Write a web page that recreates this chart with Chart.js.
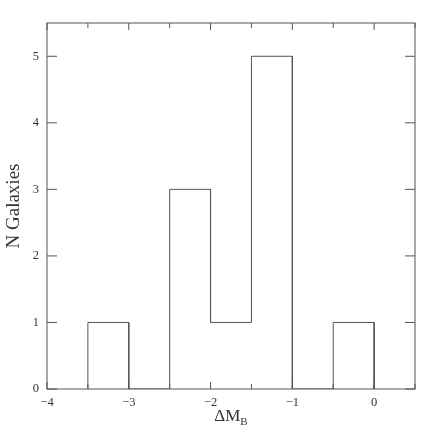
<!DOCTYPE html>
<html>
<head>
<meta charset="utf-8">
<script src="https://cdn.jsdelivr.net/npm/chart.js@4.4.1/dist/chart.umd.min.js"></script>
<style>
  html, body { margin: 0; padding: 0; background: #fff; }
  #wrap { position: relative; width: 436px; height: 436px; }
  #xTitle {
    position: absolute; top: 406px; width: 80px; text-align: center;
    font-family: 'Liberation Serif', serif; font-size: 17px; color: #333; line-height: 20px;
  }
  #xTitle sub { font-size: 11px; vertical-align: -4px; }
</style>
</head>
<body>
<div id="wrap">
  <canvas id="histChart" width="436" height="436"></canvas>
  <div id="xTitle">&Delta;M<sub>B</sub></div>
</div>
<script>
// histogram of magnitude differences
const binEdges = [-3.5, -3, -2.5, -2, -1.5, -1, -0.5, 0];
const counts = [1, 0, 3, 1, 5, 0, 1];
const xTicks = [-4, -3.5, -3, -2.5, -2, -1.5, -1, -0.5, 0, 0.5];
const yTicks = [0, 1, 2, 3, 4, 5];

const lineColor = '#555';
const textColor = '#333';

// outline of the histogram: go up/down at each edge
const outline = [{ x: binEdges[0], y: 0 }];
for (let i = 0; i < counts.length; i++) {
    outline.push({ x: binEdges[i], y: counts[i] });
    outline.push({ x: binEdges[i + 1], y: counts[i] });
}
outline.push({ x: binEdges[binEdges.length - 1], y: 0 });

function minusLabel(v) {
    if (!Number.isInteger(v)) return '';
    return v < 0 ? '\u2212' + Math.abs(v) : String(v);
}

// frame and inward tick marks on all four sides
const frameTicks = {
    id: 'frameTicks',
    afterDraw(chart) {
        const ctx = chart.ctx;
        const a = chart.chartArea;
        const xs = chart.scales.x, ys = chart.scales.y;
        ctx.save();
        ctx.strokeStyle = lineColor;
        ctx.lineWidth = 1;
        ctx.strokeRect(a.left, a.top, a.right - a.left, a.bottom - a.top);
        ctx.beginPath();
        xTicks.forEach(v => {
            const px = xs.getPixelForValue(v);
            const len = Number.isInteger(v) ? 7 : 5;
            ctx.moveTo(px, a.bottom); ctx.lineTo(px, a.bottom - len);
            ctx.moveTo(px, a.top); ctx.lineTo(px, a.top + len);
        });
        yTicks.forEach(v => {
            const py = ys.getPixelForValue(v);
            ctx.moveTo(a.left, py); ctx.lineTo(a.left + 10, py);
            ctx.moveTo(a.right, py); ctx.lineTo(a.right - 10, py);
        });
        ctx.stroke();
        ctx.restore();
    }
};

const ctx = document.getElementById('histChart').getContext('2d');
const histChart = new Chart(ctx, {
    type: 'line',
    data: {
        datasets: [{
            data: outline,
            borderColor: lineColor,
            borderWidth: 1,
            pointRadius: 0,
            fill: false,
            tension: 0
        }]
    },
    options: {
        responsive: false,
        animation: false,
        layout: { padding: { top: 23, right: 21, left: 0, bottom: 0 } },
        plugins: { legend: { display: false }, tooltip: { enabled: false } },
        scales: {
            x: {
                type: 'linear',
                min: -4,
                max: 0.5,
                afterBuildTicks: s => { s.ticks = xTicks.map(v => ({ value: v })); },
                afterFit: s => { s.height = 47; },
                grid: { display: false, drawTicks: false },
                border: { display: false },
                ticks: {
                    padding: 6,
                    color: textColor,
                    font: { family: 'Liberation Serif', size: 12.5 },
                    maxRotation: 0,
                    autoSkip: false,
                    callback: v => minusLabel(v)
                }
            },
            y: {
                min: 0,
                max: 5.5,
                afterBuildTicks: s => { s.ticks = yTicks.map(v => ({ value: v })); },
                afterFit: s => { s.width = 47; },
                grid: { display: false, drawTicks: false },
                border: { display: false },
                ticks: {
                    padding: 8,
                    color: textColor,
                    font: { family: 'Liberation Serif', size: 12.5 },
                    callback: v => minusLabel(v)
                },
                title: {
                    display: true,
                    text: 'N Galaxies',
                    color: textColor,
                    font: { family: 'Liberation Serif', size: 19 },
                    padding: { top: 3, bottom: 0 }
                }
            }
        }
    },
    plugins: [frameTicks]
});

const area = histChart.chartArea;
const xTitle = document.getElementById('xTitle');
xTitle.style.left = ((area.left + area.right) / 2 - 40) + 'px';
</script>
</body>
</html>
